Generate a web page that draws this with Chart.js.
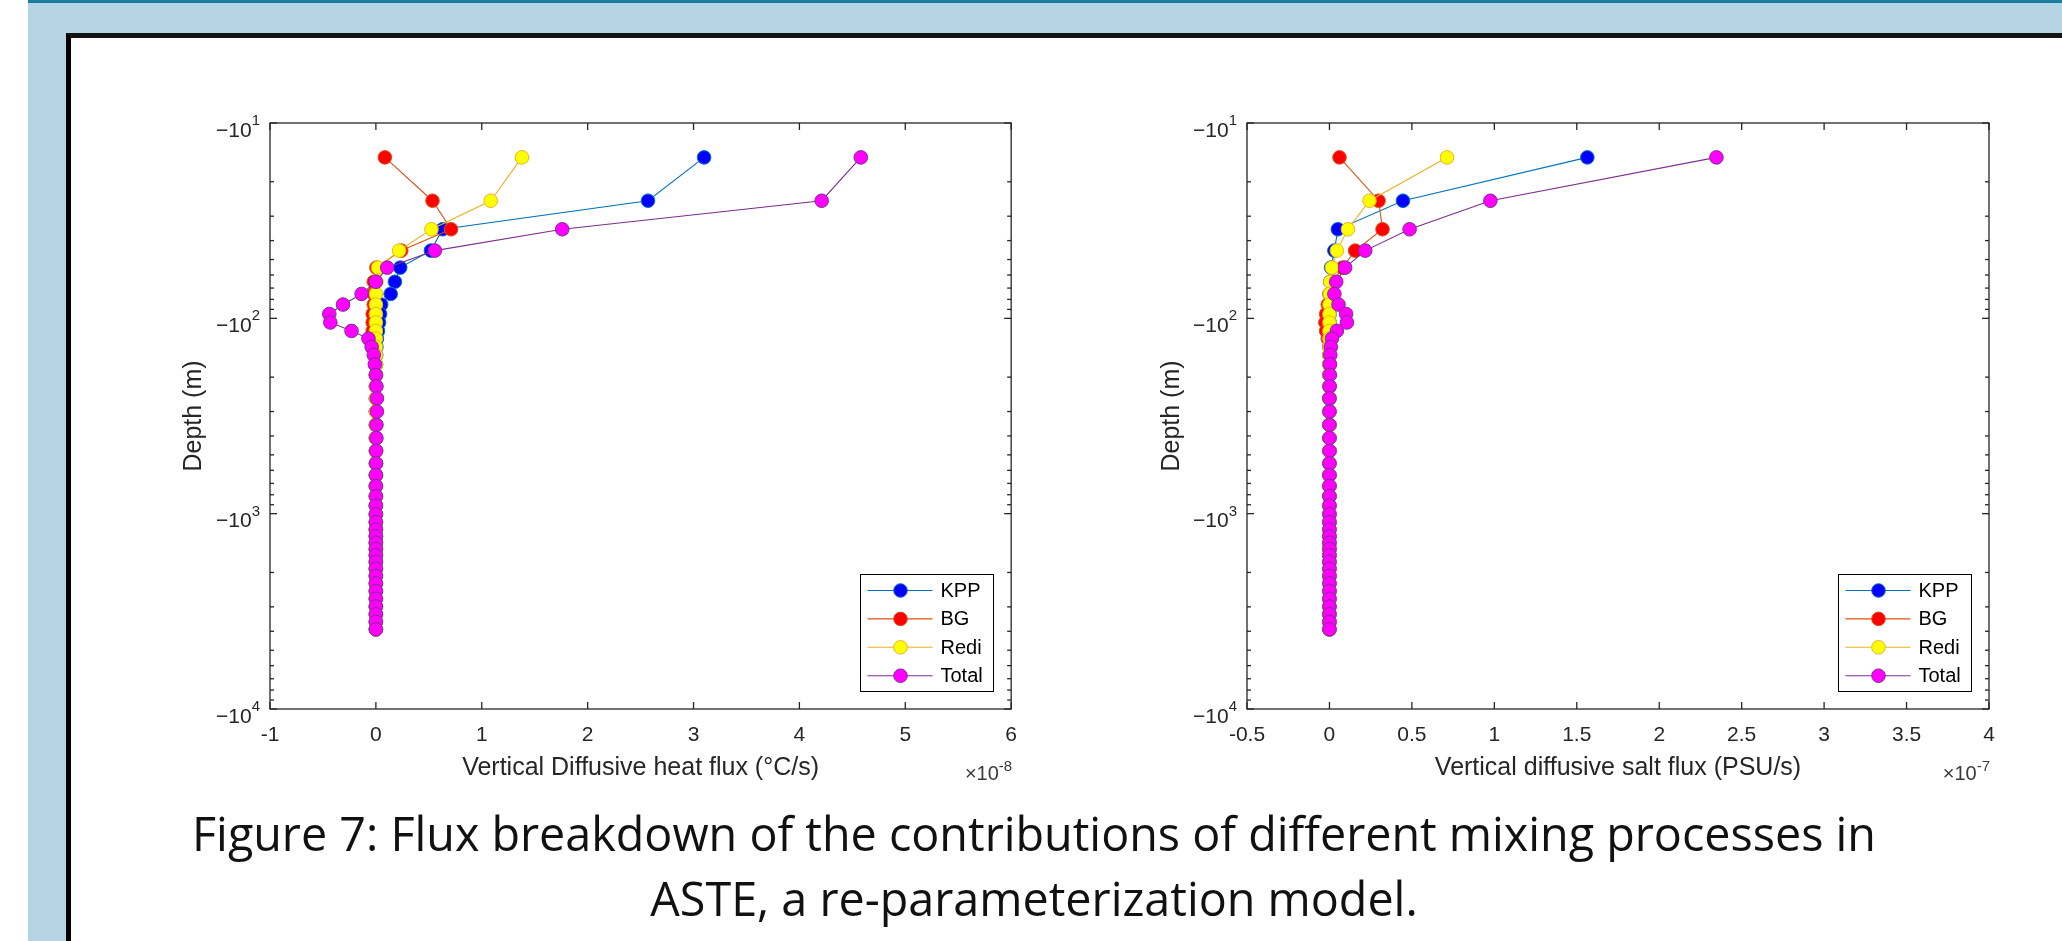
<!DOCTYPE html>
<html>
<head>
<meta charset="utf-8">
<script src="https://cdn.jsdelivr.net/npm/chart.js@4.4.1/dist/chart.umd.min.js"></script>
<style>
html,body{margin:0;padding:0;width:2062px;height:941px;overflow:hidden;background:#b4d3e3;}
#strip{position:absolute;left:0;top:0;width:28px;height:941px;background:#ffffff;}
#topline{position:absolute;left:28px;top:0;width:2034px;height:3px;background:#1b7ea1;}
#panel{position:absolute;left:66px;top:33px;right:0;bottom:0;background:#ffffff;border-left:5px solid #000;border-top:5px solid #141414;}
.cw{position:absolute;top:0;width:1031px;height:941px;}
#w1{left:0;} #w2{left:1031px;}
canvas{display:block;}
#caption{position:absolute;left:34px;width:2000px;top:801px;text-align:center;font-family:'Open Sans',sans-serif;font-size:46.7px;line-height:65px;color:#111;}
</style>
</head>
<body>
<div id="strip"></div>
<div id="topline"></div>
<div id="panel"></div>
<div class="cw" id="w1"><canvas id="c1" width="1031" height="941" style="width:1031px;height:941px"></canvas></div>
<div class="cw" id="w2"><canvas id="c2" width="1031" height="941" style="width:1031px;height:941px"></canvas></div>
<div id="caption">Figure 7: Flux breakdown of the contributions of different mixing processes in<br>ASTE, a re-parameterization model.</div>
<script>
// ---------------- DATA ----------------
// depth of model levels (m, plotted as negative depth on a log axis)
const depthM = [15,25,35,45,55,65,75,85,95,105,116,127,140,154,172,195,223,257,300,351,
  410,477,553,635,722,814,910,1007,1106,1206,1306,1409,1517,1634,1765,1914,2084,2276,2491,2729,
  2990,3274,3581,3911];

const seriesNames = ['KPP','BG','Redi','Total'];

// Vertical diffusive heat flux, units of 1e-8 °C/s
const heatKPP   = [3.10,2.57,0.63,0.52,0.23,0.18,0.14,0.05,0.04,0.03,
  0.02,0.01,0.005,0.003,0.002,0.001,0.001,0,0,0, 0,0,0,0,0,0,0,0,0,0, 0,0,0,0,0,0,0,0,0,0, 0,0,0,0];
const heatBG    = [0.085,0.535,0.71,0.24,0.005,-0.02,-0.02,-0.02,-0.03,-0.03,
  -0.03,-0.02,-0.01,-0.005,0,0,0,0,0,0, 0,0,0,0,0,0,0,0,0,0, 0,0,0,0,0,0,0,0,0,0, 0,0,0,0];
const heatRedi  = [1.38,1.085,0.525,0.22,0.02,0.005,0,0,0,0,
  0,0,0,0,0,0,0,0,0,0, 0,0,0,0,0,0,0,0,0,0, 0,0,0,0,0,0,0,0,0,0, 0,0,0,0];
const heatTotal = [4.58,4.21,1.76,0.557,0.107,0.0,-0.135,-0.31,-0.44,-0.43,
  -0.23,-0.07,-0.04,-0.02,-0.01,0.0,0.005,0.01,0.01,0.005, 0.005,0.003,0.002,0.001,0,0,0,0,0,0,
  0,0,0,0,0,0,0,0,0,0, 0,0,0,0];

// Vertical diffusive salt flux, units of 1e-7 PSU/s
const saltKPP   = [1.564,0.446,0.051,0.03,0.01,0.005,0.003,0.002,0.001,0.001,
  0,0,0,0,0,0,0,0,0,0, 0,0,0,0,0,0,0,0,0,0, 0,0,0,0,0,0,0,0,0,0, 0,0,0,0];
const saltBG    = [0.061,0.298,0.322,0.156,0.08,0.02,0.0,-0.01,-0.02,-0.025,
  -0.02,-0.01,0,0,0,0,0,0,0,0, 0,0,0,0,0,0,0,0,0,0, 0,0,0,0,0,0,0,0,0,0, 0,0,0,0];
const saltRedi  = [0.713,0.243,0.112,0.045,0.015,0.005,0.002,0,0,0,
  0,0,0,0,0,0,0,0,0,0, 0,0,0,0,0,0,0,0,0,0, 0,0,0,0,0,0,0,0,0,0, 0,0,0,0];
const saltTotal = [2.347,0.976,0.486,0.217,0.095,0.041,0.03,0.055,0.101,0.106,
  0.045,0.015,0.008,0.005,0.003,0.002,0.001,0,0,0, 0,0,0,0,0,0,0,0,0,0,
  0,0,0,0,0,0,0,0,0,0, 0,0,0,0];

// tick labels
const heatXTicks = [-1,0,1,2,3,4,5,6];
const saltXTicks = [-0.5,0,0.5,1,1.5,2,2.5,3,3.5,4];
const depthTickBase = '\u221210';
const depthTickExps = [1,2,3,4];
const heatXTitle = 'Vertical Diffusive heat flux (°C/s)';
const saltXTitle = 'Vertical diffusive salt flux (PSU/s)';
const yTitle = 'Depth (m)';
const heatExp = '-8';
const saltExp = '-7';

// ---------------- STYLE ----------------
const FONT = "'Liberation Sans', Arial, Helvetica, sans-serif";
const AX = '#262626';
const styles = [
  {line:'#0072BD', fill:'#0000FF'},
  {line:'#D95319', fill:'#FF0000'},
  {line:'#EDB120', fill:'#FFFF00'},
  {line:'#7E2F8E', fill:'#FF00FF'}
];

Chart.defaults.font.family = FONT;

const matlabAxes = {
  id: 'matlabAxes',
  beforeDatasetsDraw(chart, args, o) {
    const {ctx, chartArea: a} = chart;
    const x = chart.scales.x, y = chart.scales.y;
    const L = a.left, R = a.right, T = a.top, B = a.bottom;
    ctx.save();
    ctx.strokeStyle = AX; ctx.lineWidth = 1.3;
    ctx.strokeRect(L, T, R - L, B - T);
    const seg = (x1,y1,x2,y2)=>{ctx.beginPath();ctx.moveTo(x1,y1);ctx.lineTo(x2,y2);ctx.stroke();};
    o.xTicks.forEach(v => {
      const px = x.getPixelForValue(v);
      seg(px, B, px, B - 7); seg(px, T, px, T + 7);
    });
    o.yExps.forEach((e, i) => {
      const d = Math.pow(10, e);
      const py = y.getPixelForValue(d);
      seg(L, py, L + 7, py); seg(R, py, R - 7, py);
      if (i < o.yExps.length - 1) {
        for (let m = 2; m <= 9; m++) {
          const pm = y.getPixelForValue(d * m);
          seg(L, pm, L + 4, pm); seg(R, pm, R - 4, pm);
        }
      }
    });
    ctx.restore();
  },
  afterDraw(chart, args, o) {
    const {ctx, chartArea: a} = chart;
    const y = chart.scales.y;
    const L = a.left, R = a.right, B = a.bottom;
    ctx.save();
    // y tick labels (-10^n)
    ctx.fillStyle = AX;
    ctx.textBaseline = 'alphabetic';
    o.yExps.forEach(e => {
      const py = y.getPixelForValue(Math.pow(10, e));
      ctx.font = '15px ' + FONT;
      const sw = ctx.measureText(String(e)).width;
      const right = L - 10;
      ctx.textAlign = 'left';
      ctx.fillText(String(e), right - sw, py + 2);
      ctx.font = '21px ' + FONT;
      ctx.textAlign = 'right';
      ctx.fillText(o.yBase, right - sw, py + 13.5);
    });
    // x exponent label
    ctx.font = '15px ' + FONT;
    const ew = ctx.measureText(o.exp).width;
    ctx.textAlign = 'left';
    ctx.fillStyle = '#3a3a3a';
    ctx.fillText(o.exp, R + 1 - ew, B + 62);
    ctx.font = '20px ' + FONT;
    ctx.textAlign = 'right';
    ctx.fillText('\u00D710', R + 1 - ew, B + 71);
    // legend
    const bw = 133, bh = 117;
    const bx = Math.round(R - 18 - bw) + 0.5, by = Math.round(B - 18 - bh) + 0.5;
    ctx.fillStyle = '#fff';
    ctx.fillRect(bx, by, bw, bh);
    ctx.strokeStyle = '#000'; ctx.lineWidth = 1;
    ctx.strokeRect(bx, by, bw, bh);
    chart.data.datasets.forEach((ds, i) => {
      const ry = by + 16 + i * 28.4;
      ctx.strokeStyle = ds.borderColor; ctx.lineWidth = ds.borderWidth;
      ctx.beginPath(); ctx.moveTo(bx + 7, ry); ctx.lineTo(bx + 72, ry); ctx.stroke();
      ctx.beginPath(); ctx.arc(bx + 40, ry, ds.pointRadius, 0, Math.PI * 2);
      ctx.fillStyle = ds.pointBackgroundColor; ctx.fill();
      ctx.lineWidth = ds.pointBorderWidth; ctx.strokeStyle = ds.pointBorderColor; ctx.stroke();
      ctx.fillStyle = '#000';
      ctx.font = '20px ' + FONT;
      ctx.textAlign = 'left'; ctx.textBaseline = 'middle';
      ctx.fillText(ds.label, bx + 80, ry + 1);
    });
    ctx.restore();
  }
};

function makeChart(id, seriesList, xTicks, xTitle, exp, lay) {
  const datasets = seriesList.map((vals, i) => ({
    label: seriesNames[i],
    data: vals.map((v, k) => ({x: v, y: depthM[k]})),
    borderColor: styles[i].line,
    borderWidth: 1.1,
    pointBackgroundColor: styles[i].fill,
    pointBorderColor: styles[i].line,
    pointBorderWidth: 1,
    pointRadius: 6.8,
    pointHoverRadius: 6.8,
    showLine: true,
    tension: 0,
    fill: false,
    order: 4 - i
  }));
  return new Chart(document.getElementById(id), {
    type: 'scatter',
    data: {datasets},
    plugins: [matlabAxes],
    options: {
      responsive: false,
      animation: false,
      events: [],
      layout: {padding: {left: 0, top: 123, right: lay.padRight, bottom: 0}},
      plugins: {
        legend: {display: false},
        tooltip: {enabled: false},
        matlabAxes: {xTicks: xTicks, yExps: depthTickExps, yBase: depthTickBase, exp: exp}
      },
      scales: {
        x: {
          type: 'linear', position: 'bottom',
          min: xTicks[0], max: xTicks[xTicks.length - 1],
          grid: {display: false, drawTicks: false},
          border: {display: false},
          afterBuildTicks: s => { s.ticks = xTicks.map(v => ({value: v})); },
          afterFit: s => { s.height = 232; },
          ticks: {padding: 14, color: AX, font: {size: 21}, autoSkip: false, maxRotation: 0,
                  callback: v => String(v)},
          title: {display: true, text: xTitle, color: AX, font: {size: 25}, padding: {top: 0, bottom: 158}}
        },
        y: {
          type: 'logarithmic', position: 'left', reverse: true,
          min: 10, max: 10000,
          grid: {display: false, drawTicks: false},
          border: {display: false},
          afterBuildTicks: s => { s.ticks = depthTickExps.map(e => ({value: Math.pow(10, e)})); },
          afterFit: s => { s.width = lay.yWidth; },
          ticks: {display: false},
          title: {display: true, text: yTitle, color: AX, font: {size: 25}, padding: {top: lay.titlePad, bottom: 0}}
        }
      }
    }
  });
}

makeChart('c1', [heatKPP, heatBG, heatRedi, heatTotal], heatXTicks, heatXTitle, heatExp,
  {padRight: 19, yWidth: 270, titlePad: 179});
makeChart('c2', [saltKPP, saltBG, saltRedi, saltTotal], saltXTicks, saltXTitle, saltExp,
  {padRight: 73, yWidth: 216, titlePad: 126});
</script>
</body>
</html>
